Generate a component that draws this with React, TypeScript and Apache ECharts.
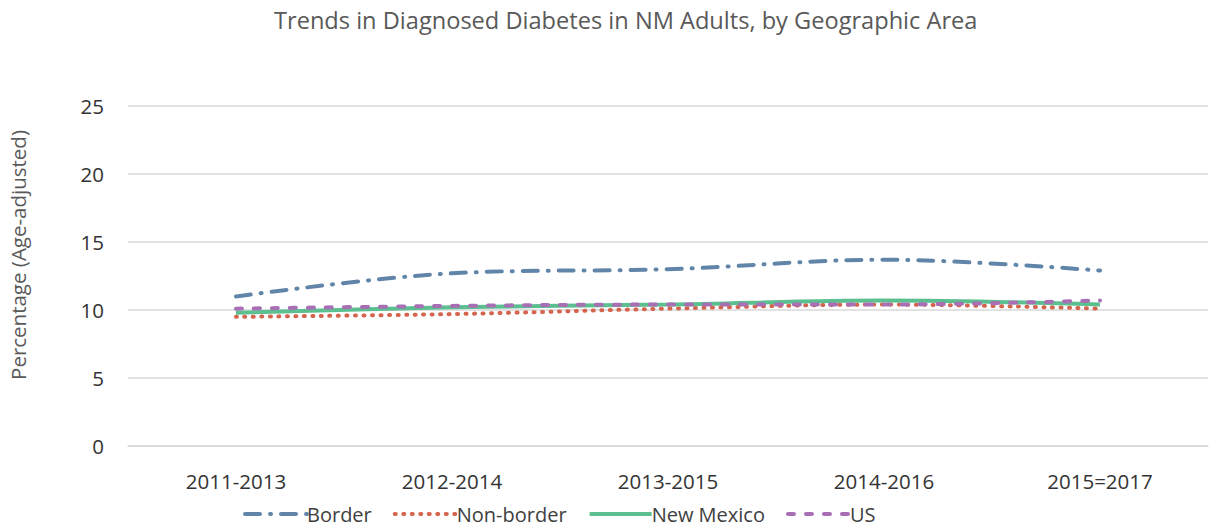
import React, { useEffect, useRef } from "react";
import * as echarts from "echarts";

const categories = ["2011-2013", "2012-2014", "2013-2015", "2014-2016", "2015=2017"];
const border = [11.0, 12.7, 13.0, 13.7, 12.9];
const nonBorder = [9.5, 9.7, 10.1, 10.4, 10.1];
const newMexico = [9.8, 10.2, 10.4, 10.7, 10.4];
const us = [10.1, 10.3, 10.4, 10.4, 10.7];
const yTicks = { min: 0, max: 25, interval: 5 };

export default function App() {
  const ref = useRef<HTMLDivElement>(null);
  useEffect(() => {
    document.body.style.margin = "0";
    const chart = echarts.init(ref.current!, null, { renderer: "svg" });
    const font = "'Open Sans', 'Noto Sans', sans-serif";
    chart.setOption({
      animation: false,
      textStyle: { fontFamily: font },
      title: {
        text: "Trends in Diagnosed Diabetes in NM Adults, by Geographic Area",
        left: 269,
        top: 3,
        textStyle: { fontFamily: font, fontSize: 23.6, fontWeight: "normal", color: "#595959" },
      },
      graphic: [
        {
          type: "text",
          x: 18,
          y: 255,
          rotation: Math.PI / 2,
          style: {
            text: "Percentage (Age-adjusted)",
            fontFamily: font,
            fontSize: 20.5,
            fill: "#595959",
            align: "center",
            verticalAlign: "middle",
          },
        },
      ],
      legend: {
        bottom: 0,
        left: 238,
        itemWidth: 62,
        itemHeight: 6,
        itemGap: 21,
        itemStyle: { opacity: 0 },
        lineStyle: { width: 4 },
        textStyle: { fontFamily: font, fontSize: 20, color: "#404040", padding: [0, 0, 0, -5] },
      },
      grid: { left: 128, right: 1, top: 106, bottom: 83 },
      xAxis: {
        type: "category",
        data: categories,
        boundaryGap: true,
        axisLine: { lineStyle: { color: "#d9d9d9", width: 1.5 } },
        axisTick: { show: false },
        axisLabel: { fontFamily: font, fontSize: 20.5, color: "#333333", margin: 24 },
      },
      yAxis: {
        type: "value",
        min: yTicks.min,
        max: yTicks.max,
        interval: yTicks.interval,
        splitLine: { lineStyle: { color: "#d9d9d9", width: 1.5 } },
        axisLabel: { fontFamily: font, fontSize: 20.5, color: "#333333", margin: 24 },
      },
      series: [
        {
          name: "Border",
          type: "line",
          data: border,
          smooth: 0.35,
          symbol: "none",
          color: "#6185a8",
          lineStyle: { color: "#6185a8", width: 4, type: [15, 10, 1, 10], cap: "round", opacity: 1 },
        },
        {
          name: "Non-border",
          type: "line",
          data: nonBorder,
          smooth: 0.35,
          symbol: "none",
          color: "#d4644e",
          lineStyle: { color: "#d4644e", width: 4, type: [1, 7.5], cap: "round", opacity: 1 },
        },
        {
          name: "New Mexico",
          type: "line",
          data: newMexico,
          smooth: 0.35,
          symbol: "none",
          color: "#5bbf8f",
          lineStyle: { color: "#5bbf8f", width: 4, opacity: 1 },
        },
        {
          name: "US",
          type: "line",
          data: us,
          smooth: 0.35,
          symbol: "none",
          color: "#a86fb5",
          lineStyle: { color: "#a86fb5", width: 4, type: [6, 12], cap: "round", opacity: 1 },
        },
      ],
    });
    return () => chart.dispose();
  }, []);
  return <div ref={ref} style={{ width: 1209, height: 529 }} />;
}
